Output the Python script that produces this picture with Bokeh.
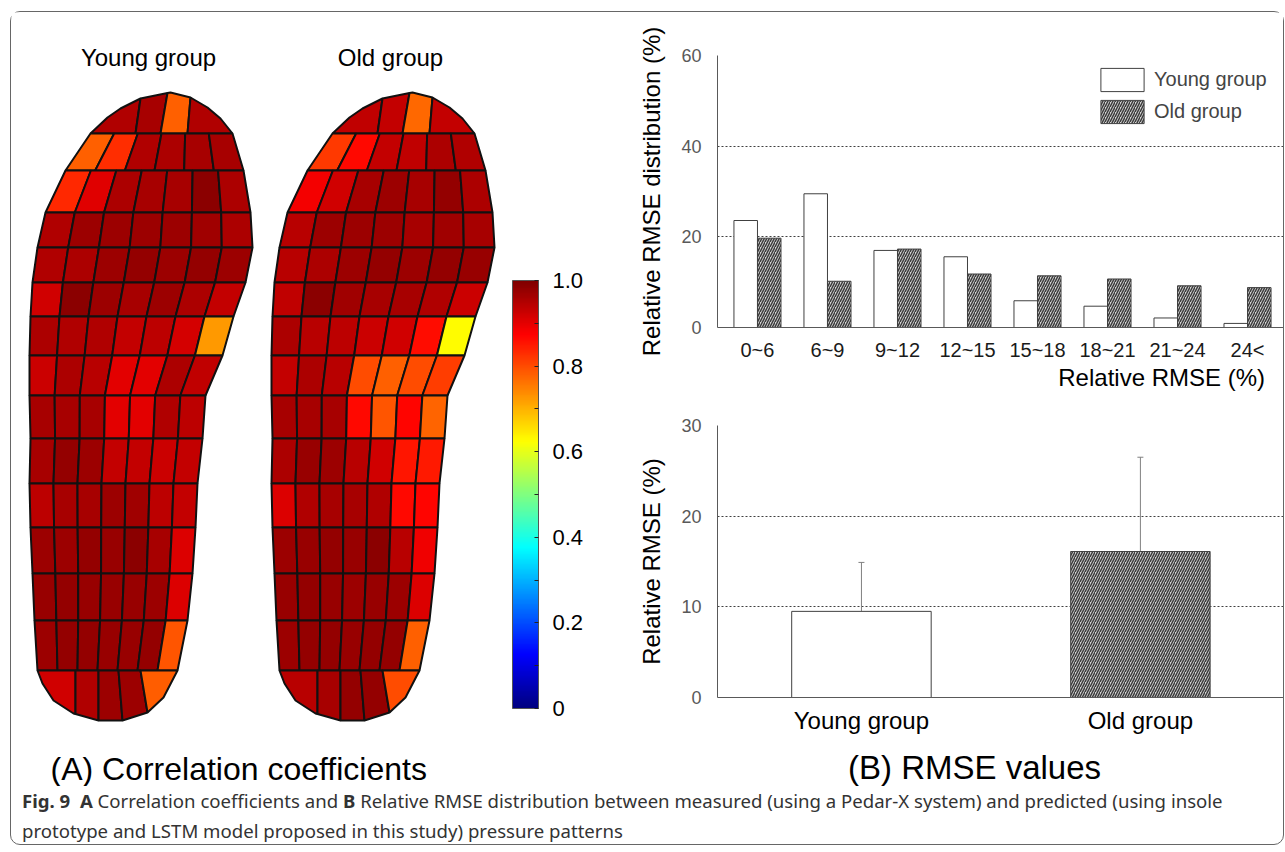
import numpy as np
from bokeh.plotting import figure
from bokeh.models import (Range1d, LinearColorMapper, ColorBar, FixedTicker, PrintfTickFormatter,
                          ColumnDataSource, Whisker, TeeHead, Legend, LegendItem, Div)
from bokeh.layouts import row, column
from bokeh.embed import file_html
from bokeh.resources import INLINE
from bokeh.core.properties import value

# ---------------- data ----------------
RMSE_BINS = ["0~6", "6~9", "9~12", "12~15", "15~18", "18~21", "21~24", "24<"]
DIST_YOUNG = [23.6, 29.5, 17.0, 15.6, 5.9, 4.7, 2.1, 0.9]
DIST_OLD = [19.7, 10.2, 17.3, 11.8, 11.4, 10.7, 9.2, 8.8]
GROUPS = ["Young group", "Old group"]
RMSE_MEAN = [9.5, 16.1]
RMSE_SD = [5.4, 10.4]
CB_TICKS = [0, 0.2, 0.4, 0.6, 0.8, 1.0]
CB_MINOR = [0.1, 0.3, 0.5, 0.7, 0.9]

# correlation coefficient per insole sensor cell, rows from toe to heel
YOUNG_R = [
    [0.95, 0.96, 0.78, 0.95],
    [0.78, 0.83, 0.95, 0.955, 0.96, 0.96],
    [0.835, 0.905, 0.955, 0.96, 0.96, 0.985, 0.955],
    [0.95, 0.97, 0.97, 0.97, 0.97, 0.965, 0.955],
    [0.95, 0.955, 0.97, 0.98, 0.97, 0.98, 0.97],
    [0.92, 0.985, 0.97, 0.96, 0.97, 0.955, 0.93],
    [0.955, 0.95, 0.95, 0.93, 0.94, 0.915, 0.725],
    [0.925, 0.955, 0.945, 0.9, 0.9, 0.955, 0.935],
    [0.96, 0.96, 0.96, 0.9, 0.9, 0.95, 0.94],
    [0.96, 0.98, 0.97, 0.93, 0.93, 0.925, 0.93],
    [0.94, 0.96, 0.96, 0.97, 0.965, 0.94, 0.93],
    [0.97, 0.97, 0.98, 0.975, 0.985, 0.96, 0.91],
    [0.975, 0.98, 0.975, 0.975, 0.975, 0.97, 0.91],
    [0.97, 0.98, 0.98, 0.975, 0.975, 0.98, 0.79],
    [0.92, 0.95, 0.97, 0.97, 0.785],
]
OLD_R = [
    [0.935, 0.93, 0.77, 0.93],
    [0.82, 0.865, 0.93, 0.935, 0.955, 0.95],
    [0.885, 0.92, 0.96, 0.97, 0.96, 0.98, 0.955],
    [0.945, 0.97, 0.97, 0.97, 0.96, 0.965, 0.96],
    [0.945, 0.955, 0.97, 0.98, 0.97, 0.98, 0.975],
    [0.935, 0.985, 0.965, 0.96, 0.96, 0.95, 0.925],
    [0.955, 0.945, 0.94, 0.925, 0.92, 0.86, 0.625],
    [0.93, 0.955, 0.945, 0.8, 0.78, 0.8, 0.815],
    [0.96, 0.96, 0.96, 0.865, 0.79, 0.87, 0.775],
    [0.955, 0.975, 0.97, 0.945, 0.92, 0.855, 0.85],
    [0.91, 0.95, 0.96, 0.96, 0.95, 0.865, 0.87],
    [0.97, 0.975, 0.98, 0.975, 0.985, 0.945, 0.89],
    [0.975, 0.98, 0.975, 0.97, 0.975, 0.97, 0.91],
    [0.97, 0.98, 0.98, 0.975, 0.98, 0.98, 0.78],
    [0.945, 0.96, 0.98, 0.98, 0.8],
]

# ---------------- insole geometry (page pixels, young insole; old shifted) ----------------
INSOLE_SHIFT = [0, 242]
ROW_Y = [133, 170, 212, 247, 282, 316, 355, 395, 438, 483, 527, 573, 620, 670]
LEFT_X = [90, 65, 45, 37, 32, 30, 29, 29, 30, 29, 30, 32, 34, 37]
RIGHT_X = [232, 243, 250, 252, 245, 233, 222, 205, 202, 197, 195, 192, 187, 177]
TOE_ARC_X = [90, 107, 120, 140, 170, 190, 207, 220, 232]
TOE_ARC_Y = [133, 117, 108, 98, 92, 97, 107, 118, 133]
TOE_DIV_BOT = [90, 135, 160, 187, 232]
TOE_DIV_TOP = [90, 140, 167, 190, 232]
HEEL_ARC_X = [37, 42, 53, 73, 98, 122, 147, 163, 177]
HEEL_ARC_Y = [670, 683, 700, 713, 720, 720, 712, 697, 670]
HEEL_DIV_TOP = [37, 75, 98, 118, 140, 177]
HEEL_DIV_BOT = [37, 75, 98, 122, 147, 177]


def arc_pts(ax, ay, x_hi, x_lo):
    inner = [(x, y) for x, y in zip(ax, ay) if x_lo < x < x_hi][::-1]
    pts = [(x_hi, float(np.interp(x_hi, ax, ay)))] + inner + [(x_lo, float(np.interp(x_lo, ax, ay)))]
    return [p[0] for p in pts], [p[1] for p in pts]


def insole_cells(vals, dx):
    xs, ys, rs = [], [], []
    for j, r in enumerate(vals[0]):
        axp, ayp = arc_pts(TOE_ARC_X, TOE_ARC_Y, TOE_DIV_TOP[j + 1], TOE_DIV_TOP[j])
        cx = [TOE_DIV_BOT[j], TOE_DIV_BOT[j + 1]] + axp
        cy = [ROW_Y[0], ROW_Y[0]] + ayp
        xs.append([x + dx for x in cx]); ys.append(cy); rs.append(r)
    for i in range(len(ROW_Y) - 1):
        rowv = vals[i + 1]
        n = len(rowv)
        top = np.linspace(LEFT_X[i], RIGHT_X[i], n + 1)
        bot = np.linspace(LEFT_X[i + 1], RIGHT_X[i + 1], n + 1)
        for j, r in enumerate(rowv):
            cx = [top[j], top[j + 1], bot[j + 1], bot[j]]
            cy = [ROW_Y[i], ROW_Y[i], ROW_Y[i + 1], ROW_Y[i + 1]]
            xs.append([float(x) + dx for x in cx]); ys.append(cy); rs.append(r)
    for j, r in enumerate(vals[-1]):
        axp, ayp = arc_pts(HEEL_ARC_X, HEEL_ARC_Y, HEEL_DIV_BOT[j + 1], HEEL_DIV_BOT[j])
        cx = [HEEL_DIV_TOP[j], HEEL_DIV_TOP[j + 1]] + axp
        cy = [ROW_Y[-1], ROW_Y[-1]] + ayp
        xs.append([x + dx for x in cx]); ys.append(cy); rs.append(r)
    return xs, ys, rs


def jet(t):
    r = np.clip(1.5 - abs(4 * t - 3), 0, 1)
    g = np.clip(1.5 - abs(4 * t - 2), 0, 1)
    b = np.clip(1.5 - abs(4 * t - 1), 0, 1)
    return "#%02x%02x%02x" % (int(round(r * 255)), int(round(g * 255)), int(round(b * 255)))


JET = [jet(t) for t in np.linspace(0, 1, 256)]
mapper = LinearColorMapper(palette=JET, low=0, high=1)

FONT = "Liberation Sans"

# ---------------- panel A ----------------
X0, Y0 = 11, 12
LW, LH = 609, 774
pA = figure(width=LW, height=LH, x_range=Range1d(X0, X0 + LW), y_range=Range1d(Y0 + LH, Y0),
            output_backend="svg", toolbar_location=None, min_border=0,
            x_axis_location=None, y_axis_location=None)
pA.grid.visible = False
pA.outline_line_color = None

allx, ally, allr = [], [], []
for vals, dx in zip([YOUNG_R, OLD_R], INSOLE_SHIFT):
    xs, ys, rs = insole_cells(vals, dx)
    allx += xs; ally += ys; allr += rs
srcA = ColumnDataSource(dict(xs=allx, ys=ally, r=allr))
pA.patches("xs", "ys", source=srcA, fill_color={"field": "r", "transform": mapper},
           line_color="#111111", line_width=2)

pA.text(x=[148, 390], y=[57, 57], text=GROUPS, text_align="center", text_baseline="middle",
        text_font=value(FONT), text_font_size="24px", text_color="black")
pA.text(x=[50], y=[768], text=["(A) Correlation coefficients"], text_align="left",
        text_baseline="middle", text_font=value(FONT), text_font_size="32px", text_color="black")

cb = ColorBar(color_mapper=mapper,
              ticker=FixedTicker(ticks=CB_TICKS, minor_ticks=CB_MINOR),
              formatter=PrintfTickFormatter(format="%.1f"), major_label_overrides={0: "0"},
              width=26, height=428, location=(512 - X0, (Y0 + LH) - 708), padding=0, margin=0,
              label_standoff=14, major_label_text_font_size="22px", major_label_text_font=FONT,
              major_label_text_color="black",
              major_tick_in=4, major_tick_out=0, major_tick_line_color="#222222",
              minor_tick_in=4, minor_tick_out=0, minor_tick_line_color="#222222",
              bar_line_color="#555555", border_line_color=None, background_fill_alpha=0)
pA.add_layout(cb)

# ---------------- panel B (top) ----------------
AX_COL = "#595959"
HATCH = dict(fill_color="#d4d4d4", hatch_pattern="/", hatch_color="#3c3c3c",
             hatch_scale=5, hatch_weight=1.5)
idx = np.arange(len(RMSE_BINS))
pB1 = figure(width=663, height=352, x_range=Range1d(-0.571, 7.514), y_range=Range1d(0, 60),
             output_backend="svg", toolbar_location=None,
             min_border_left=97, min_border_right=0, min_border_top=43, min_border_bottom=37)
src1 = ColumnDataSource(dict(xy=idx - 0.168, xo=idx + 0.168, young=DIST_YOUNG, old=DIST_OLD))
ry = pB1.vbar(x="xy", top="young", width=0.336, source=src1, fill_color="white",
              line_color="#404040", line_width=1)
ro = pB1.vbar(x="xo", top="old", width=0.336, source=src1,
              line_color="#404040", line_width=1, **HATCH)


def style_axes(p, yticks, ylabel, xfont):
    p.outline_line_color = None
    p.xgrid.visible = False
    p.ygrid.ticker = FixedTicker(ticks=yticks)
    p.ygrid.grid_line_color = "#404040"
    p.ygrid.grid_line_dash = "2 2"
    p.ygrid.grid_line_width = 1
    p.yaxis.ticker = FixedTicker(ticks=yticks)
    for ax in (p.xaxis, p.yaxis):
        ax.major_tick_line_color = None
        ax.minor_tick_line_color = None
        ax.axis_line_color = AX_COL
        ax.axis_line_width = 1
    p.yaxis.major_label_text_font = FONT
    p.yaxis.major_label_text_font_size = "18px"
    p.yaxis.major_label_text_color = AX_COL
    p.yaxis.major_label_standoff = 10
    p.yaxis.axis_label = ylabel
    p.yaxis.axis_label_text_font = FONT
    p.yaxis.axis_label_text_font_size = "24px"
    p.yaxis.axis_label_text_font_style = "normal"
    p.yaxis.axis_label_text_color = "black"
    p.yaxis.axis_label_standoff = 13
    p.xaxis.major_label_text_font = FONT
    p.xaxis.major_label_text_font_size = xfont
    p.xaxis.major_label_text_color = "#1a1a1a"


style_axes(pB1, [0, 20, 40, 60], "Relative RMSE distribution (%)", "20px")
pB1.xaxis.ticker = FixedTicker(ticks=[int(i) for i in idx])
pB1.xaxis.major_label_overrides = {int(i): lab for i, lab in zip(idx, RMSE_BINS)}
pB1.xaxis.major_label_standoff = 5

leg = Legend(items=[LegendItem(label=GROUPS[0], renderers=[ry]), LegendItem(label=GROUPS[1], renderers=[ro])],
             location=(378, 201), padding=0, margin=0, spacing=3, glyph_width=54, glyph_height=29,
             label_height=29, label_standoff=5, label_text_font=FONT, label_text_font_size="20px",
             border_line_color=None, background_fill_alpha=0)
pB1.add_layout(leg)

xt = Div(text="Relative RMSE (%)", width=645, height=28, margin=0,
         styles={"font-family": FONT, "font-size": "24px", "line-height": "28px", "color": "black",
                 "text-align": "right", "white-space": "nowrap"})

# ---------------- panel B (bottom) ----------------
pB2 = figure(width=663, height=348, x_range=Range1d(-0.516, 1.513), y_range=Range1d(0, 30),
             output_backend="svg", toolbar_location=None,
             min_border_left=97, min_border_right=0, min_border_top=33, min_border_bottom=43)
gidx = np.arange(len(GROUPS))
src2 = ColumnDataSource(dict(x=gidx, mean=RMSE_MEAN,
                             upper=[m + s for m, s in zip(RMSE_MEAN, RMSE_SD)]))
pB2.vbar(x=gidx[:1], top=RMSE_MEAN[:1], width=0.5, fill_color="white", line_color="#404040", line_width=1)
pB2.vbar(x=gidx[1:], top=RMSE_MEAN[1:], width=0.5, line_color="#404040", line_width=1, **HATCH)
wh = Whisker(source=src2, base="x", upper="upper", lower="mean", dimension="height",
             line_color="#808080", line_width=1, lower_head=None,
             upper_head=TeeHead(size=6, line_color="#808080", line_width=1))
pB2.add_layout(wh)
style_axes(pB2, [0, 10, 20, 30], "Relative RMSE (%)", "24px")
pB2.xaxis.ticker = FixedTicker(ticks=[int(i) for i in gidx])
pB2.xaxis.major_label_overrides = {int(i): g for i, g in zip(gidx, GROUPS)}
pB2.xaxis.major_label_standoff = 3
pB2.xaxis.major_label_text_color = "black"

titleB = Div(text="(B) RMSE values", width=663, height=46, margin=0,
             styles={"font-family": FONT, "font-size": "33px", "line-height": "56px", "color": "black",
                     "padding-left": "228px", "white-space": "nowrap", "box-sizing": "border-box"})

# ---------------- caption ----------------
cap = Div(text=("<b>Fig. 9</b>&nbsp; <b>A</b> Correlation coefficients and <b>B</b> Relative RMSE distribution "
                "between measured (using a Pedar-X system) and predicted (using insole<br>"
                "prototype and LSTM model proposed in this study) pressure patterns"),
          width=1260, height=58, margin=0,
          styles={"font-family": "Noto Sans", "font-size": "18.6px", "line-height": "30px",
                  "color": "#333333", "padding-left": "11px", "white-space": "nowrap"})

layout = column(row(pA, column(pB1, xt, pB2, titleB)), cap, margin=(11, 0, 0, 10),
                styles={"border": "1px solid #666666", "border-radius": "10px"})

open("out.html", "w").write(file_html(layout, INLINE))
